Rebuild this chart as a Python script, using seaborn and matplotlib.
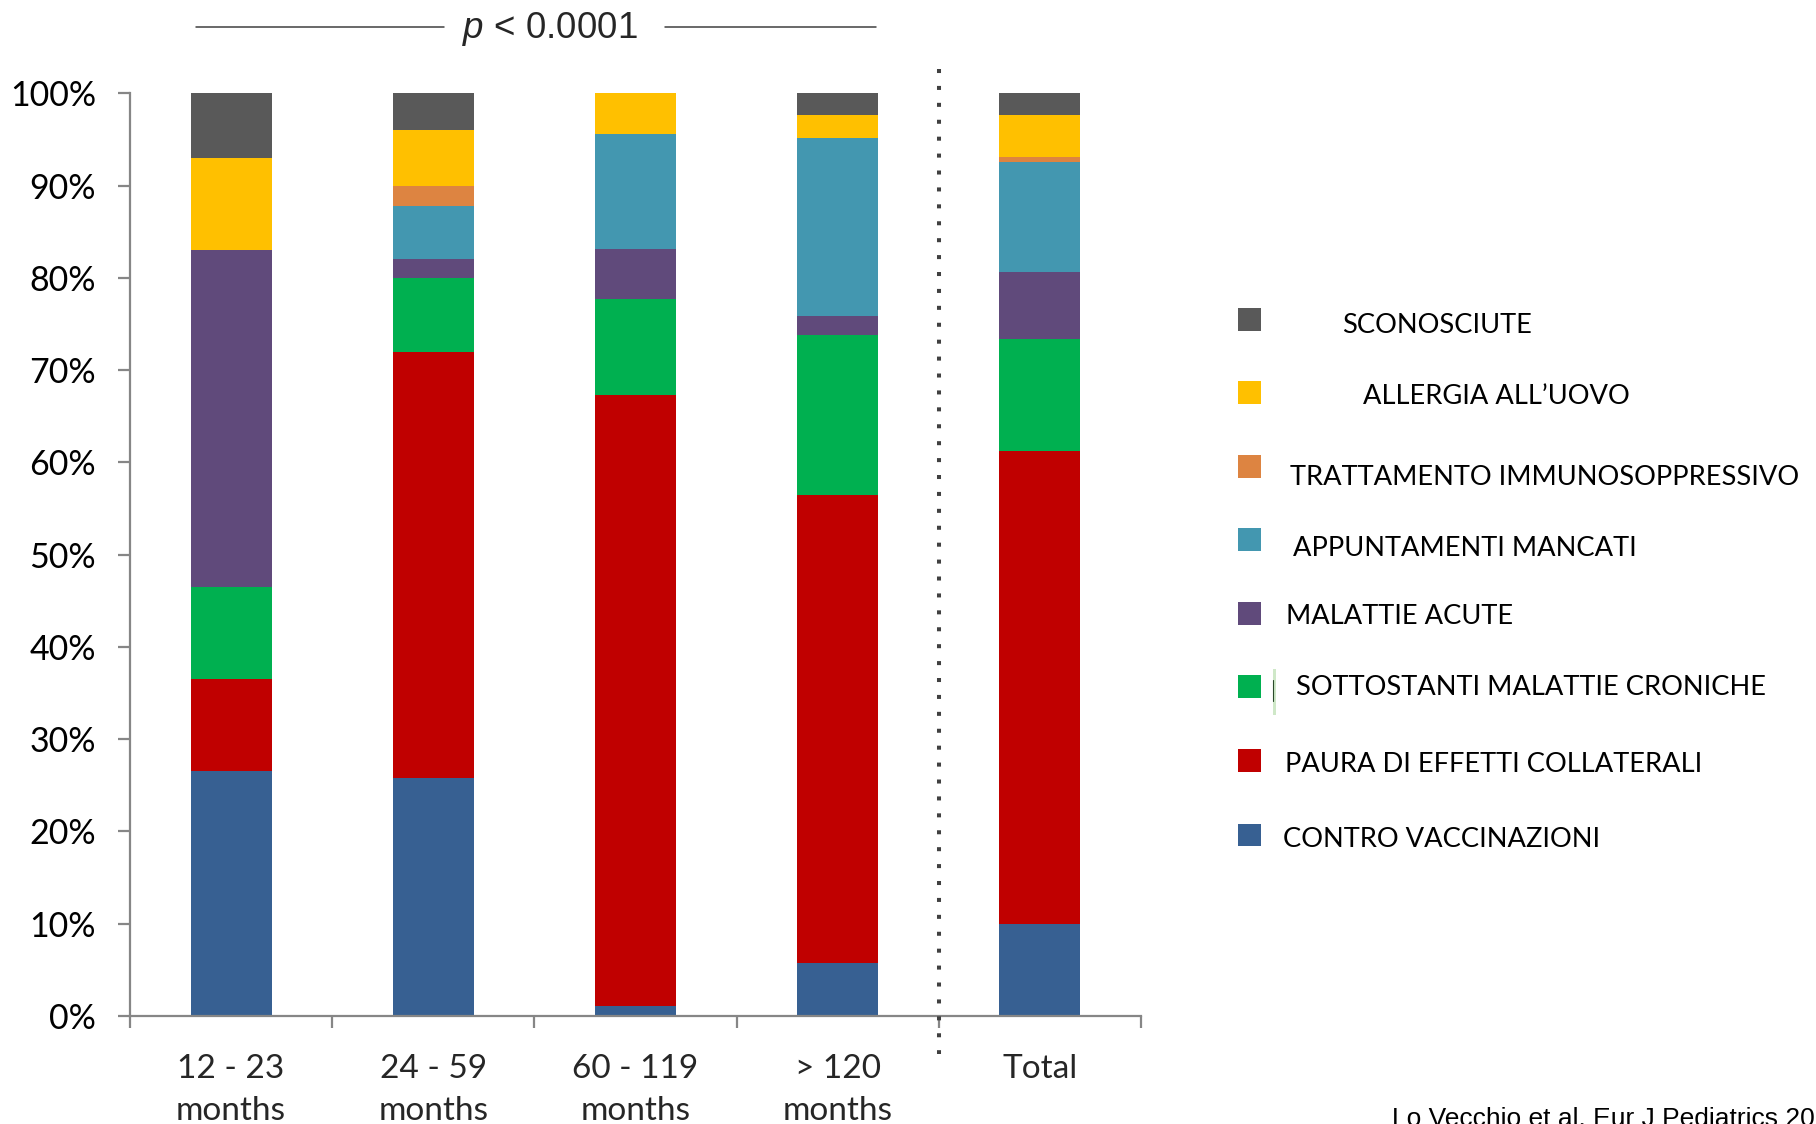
import numpy as np
import pandas as pd
import matplotlib
matplotlib.use("Agg")
import matplotlib.pyplot as plt
from matplotlib.lines import Line2D
from matplotlib.patches import Rectangle
import seaborn as sns

# Age groups (x axis)
groups = ["12 - 23\nmonths", "24 - 59\nmonths", "60 - 119\nmonths", "> 120\nmonths", "Total"]

# Reasons for missed vaccination, bottom to top of each stack (% of children)
reasons = [
    "CONTRO VACCINAZIONI",
    "PAURA DI EFFETTI COLLATERALI",
    "SOTTOSTANTI MALATTIE CRONICHE",
    "MALATTIE ACUTE",
    "APPUNTAMENTI MANCATI",
    "TRATTAMENTO IMMUNOSOPPRESSIVO",
    "ALLERGIA ALL\u2019UOVO",
    "SCONOSCIUTE",
]
contro_vaccinazioni = [26.5, 25.8, 1.1, 5.7, 10.0]
paura_effetti = [10.0, 46.2, 66.2, 50.8, 51.2]
malattie_croniche = [10.0, 8.0, 10.4, 17.3, 12.2]
malattie_acute = [36.5, 2.0, 5.4, 2.1, 7.2]
appuntamenti_mancati = [0.0, 5.8, 12.5, 19.3, 12.0]
immunosoppressivo = [0.0, 2.1, 0.0, 0.0, 0.5]
allergia_uovo = [10.0, 6.1, 4.4, 2.5, 4.6]
sconosciute = [7.0, 4.0, 0.0, 2.3, 2.3]

series = [contro_vaccinazioni, paura_effetti, malattie_croniche, malattie_acute,
          appuntamenti_mancati, immunosoppressivo, allergia_uovo, sconosciute]
colors = ["#376092", "#C00000", "#00B050", "#604A7B",
          "#4397B0", "#DD8441", "#FFC000", "#595959"]

p_label_main = " < 0.0001"
citation = "Lo Vecchio et al. Eur J Pediatrics 2019"

sns.set_style("ticks")
plt.rcParams["font.family"] = ["Lato", "DejaVu Sans"]
plt.rcParams["mathtext.fontset"] = "custom"
plt.rcParams["mathtext.rm"] = "Liberation Sans"
plt.rcParams["mathtext.it"] = "Liberation Sans:italic"

W, H = 1816, 1124
fig = plt.figure(figsize=(W / 100, H / 100), dpi=100)

def fx(px):
    return px / W

def fy(py):
    return 1 - py / H

ax = fig.add_axes([fx(130), fy(1016), fx(1141) - fx(130), fy(93.3) - fy(1016)])

bottom = np.zeros(len(groups))
for name, vals, col in zip(reasons, series, colors):
    vals = np.asarray(vals, dtype=float)
    sns.barplot(x=groups, y=vals, bottom=bottom, color=col, width=0.4,
                errorbar=None, linewidth=0, ax=ax, saturation=1)
    bottom = bottom + vals

ax.set_xlim(-0.5, len(groups) - 0.5)
ax.set_ylim(0, 100)
ax.set_yticks(np.arange(0, 101, 10))
ax.set_yticklabels([f"{v}%" for v in range(0, 101, 10)])
ax.set_xlabel("")
ax.set_ylabel("")

axis_col = "#868686"
for s in ["top", "right"]:
    ax.spines[s].set_visible(False)
for s in ["left", "bottom"]:
    ax.spines[s].set_color(axis_col)
    ax.spines[s].set_linewidth(1.6)

ax.tick_params(axis="y", which="major", length=8.4, width=1.6, color=axis_col,
               direction="out", pad=16, labelsize=24.5, labelcolor="black")
ax.set_xticks(range(len(groups)))
ax.set_xticklabels(groups, fontsize=24, linespacing=1.52)
ax.tick_params(axis="x", which="major", length=0, pad=27)
ax.set_xticks(np.arange(-0.5, len(groups), 1), minor=True)
ax.tick_params(axis="x", which="minor", length=8.4, width=1.6, color=axis_col,
               direction="out")

# Separator between age groups and the overall total
ax.plot([3.5, 3.5], [102.6, -4.1], color="#404040", lw=2.9,
        linestyle=(0, (1, 3.2)), dash_capstyle="butt", clip_on=False, zorder=5)

# Significance bar across the age groups
fig.text(fx(550), fy(28.5), r"$\it{p}$" + p_label_main, fontsize=26.5,
         family="Liberation Sans", color="#262626", ha="center", va="center")
fig.add_artist(Line2D([fx(196), fx(443.6)], [fy(26.5), fy(26.5)], color="#404040", lw=1.1))
fig.add_artist(Line2D([fx(664.8), fx(875.6)], [fy(26.5), fy(26.5)], color="#404040", lw=1.1))

# Legend, bottom item first (same order as the stacks)
marker_cy = [834.9, 760.8, 686.7, 613.7, 539.6, 466.7, 392.6, 319.6]
text_x = [1283.3, 1285.3, 1295.5, 1286.4, 1292.7, 1289.6, 1363, 1342.2]
text_base = [846.8, 772.4, 695.1, 624.4, 555.6, 485.2, 404.2, 332.7]
msize = 22.8
for name, col, cy, tx, tb in zip(reasons, colors, marker_cy, text_x, text_base):
    fig.add_artist(Rectangle((fx(1238.1), fy(cy + msize / 2)), fx(msize), msize / H,
                             facecolor=col, edgecolor="none"))
    fig.text(fx(tx), fy(tb), name, fontsize=19.6, color="black",
             ha="left", va="baseline")
fig.add_artist(Rectangle((fx(1272.5), fy(714.5)), fx(3.5), 45.5 / H,
                         facecolor="#cfe8c8", edgecolor="none"))
fig.add_artist(Line2D([fx(1272.8), fx(1272.8)], [fy(701), fy(680)], color="#2a4a2a", lw=0.8))

fig.text(fx(1392), fy(1126), citation, fontsize=19, family="Liberation Sans",
         color="black", ha="left", va="baseline")

fig.savefig("out.png", dpi=100, facecolor="white")
